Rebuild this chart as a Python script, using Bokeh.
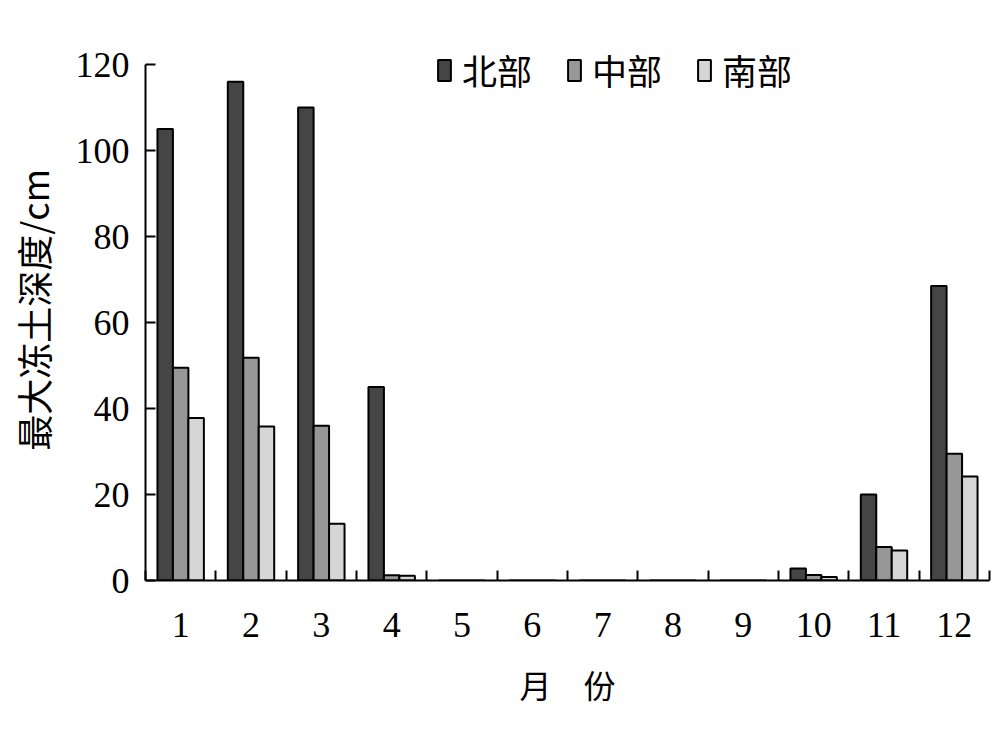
from bokeh.plotting import figure
from bokeh.models import Range1d, FixedTicker, Legend, LegendItem
from bokeh.embed import file_html
from bokeh.resources import INLINE

months = [1, 2, 3, 4, 5, 6, 7, 8, 9, 10, 11, 12]
north = [105, 116, 110, 45, 0, 0, 0, 0, 0, 2.8, 20, 68.5]
middle = [49.5, 51.8, 36, 1.2, 0, 0, 0, 0, 0, 1.3, 7.8, 29.5]
south = [37.8, 35.8, 13.2, 1.1, 0, 0, 0, 0, 0, 0.8, 7.0, 24.2]
series_names = ["北部", "中部", "南部"]
series_colors = ["#454545", "#979797", "#d6d6d6"]
y_ticks = [0, 20, 40, 60, 80, 100, 120]

W, H = 1000, 733
y_top = 120 * (580 - 40) / (580 - 64)
p = figure(width=W, height=H, output_backend="svg", toolbar_location=None,
           x_range=Range1d(0.5, 12.5), y_range=Range1d(0, y_top),
           min_border_left=145, min_border_right=11, min_border_top=40, min_border_bottom=153)
p.outline_line_color = None
p.grid.grid_line_color = None
p.background_fill_color = "white"

offsets = [-0.22, 0.0, 0.22]
bw = 0.22
renderers = []
for vals, off, col in zip([north, middle, south], offsets, series_colors):
    r = p.vbar(x=[m + off for m in months], top=vals, bottom=0, width=bw,
               fill_color=col, line_color="black", line_width=2)
    renderers.append(r)

xa = p.xaxis[0]
xa.ticker = FixedTicker(ticks=months, minor_ticks=[m - 0.5 for m in months] + [12.5])
xa.major_tick_in = 0
xa.major_tick_out = 0
xa.minor_tick_in = 10
xa.minor_tick_out = 0
xa.minor_tick_line_width = 2
xa.minor_tick_line_color = "black"
xa.axis_line_width = 2
xa.axis_line_color = "black"
xa.major_label_text_font = "Liberation Serif"
xa.major_label_text_font_size = "36px"
xa.major_label_text_color = "black"
xa.major_label_standoff = 32
xa.axis_label = "月\u3000份"
xa.axis_label_text_font = "Noto Sans CJK SC"
xa.axis_label_text_font_style = "normal"
xa.axis_label_text_font_size = "32px"
xa.axis_label_text_color = "black"
xa.axis_label_standoff = 21

ya = p.yaxis[0]
ya.ticker = FixedTicker(ticks=y_ticks, minor_ticks=[])
ya.bounds = (y_ticks[0], y_ticks[-1])
ya.major_tick_in = 10
ya.major_tick_out = 0
ya.major_tick_line_width = 2
ya.major_tick_line_color = "black"
ya.minor_tick_in = 0
ya.minor_tick_out = 0
ya.axis_line_width = 2
ya.axis_line_color = "black"
ya.major_label_text_font = "Liberation Serif"
ya.major_label_text_font_size = "36px"
ya.major_label_text_color = "black"
ya.major_label_standoff = 16
ya.axis_label = "最大冻土深度/cm"
ya.axis_label_text_font = "Noto Sans CJK SC"
ya.axis_label_text_font_style = "normal"
ya.axis_label_text_font_size = "36px"
ya.axis_label_text_color = "black"
ya.axis_label_standoff = 14

legend = Legend(items=[LegendItem(label=n, renderers=[r]) for n, r in zip(series_names, renderers)],
                orientation="horizontal", location=(291, 485),
                glyph_width=16, glyph_height=26, label_standoff=10, spacing=34,
                label_height=48,
                padding=0, margin=0, border_line_color=None, background_fill_alpha=0,
                label_text_font="Noto Sans CJK SC", label_text_font_size="35px",
                label_text_color="black")
p.add_layout(legend, "center")

open("out.html", "w").write(file_html(p, INLINE))
